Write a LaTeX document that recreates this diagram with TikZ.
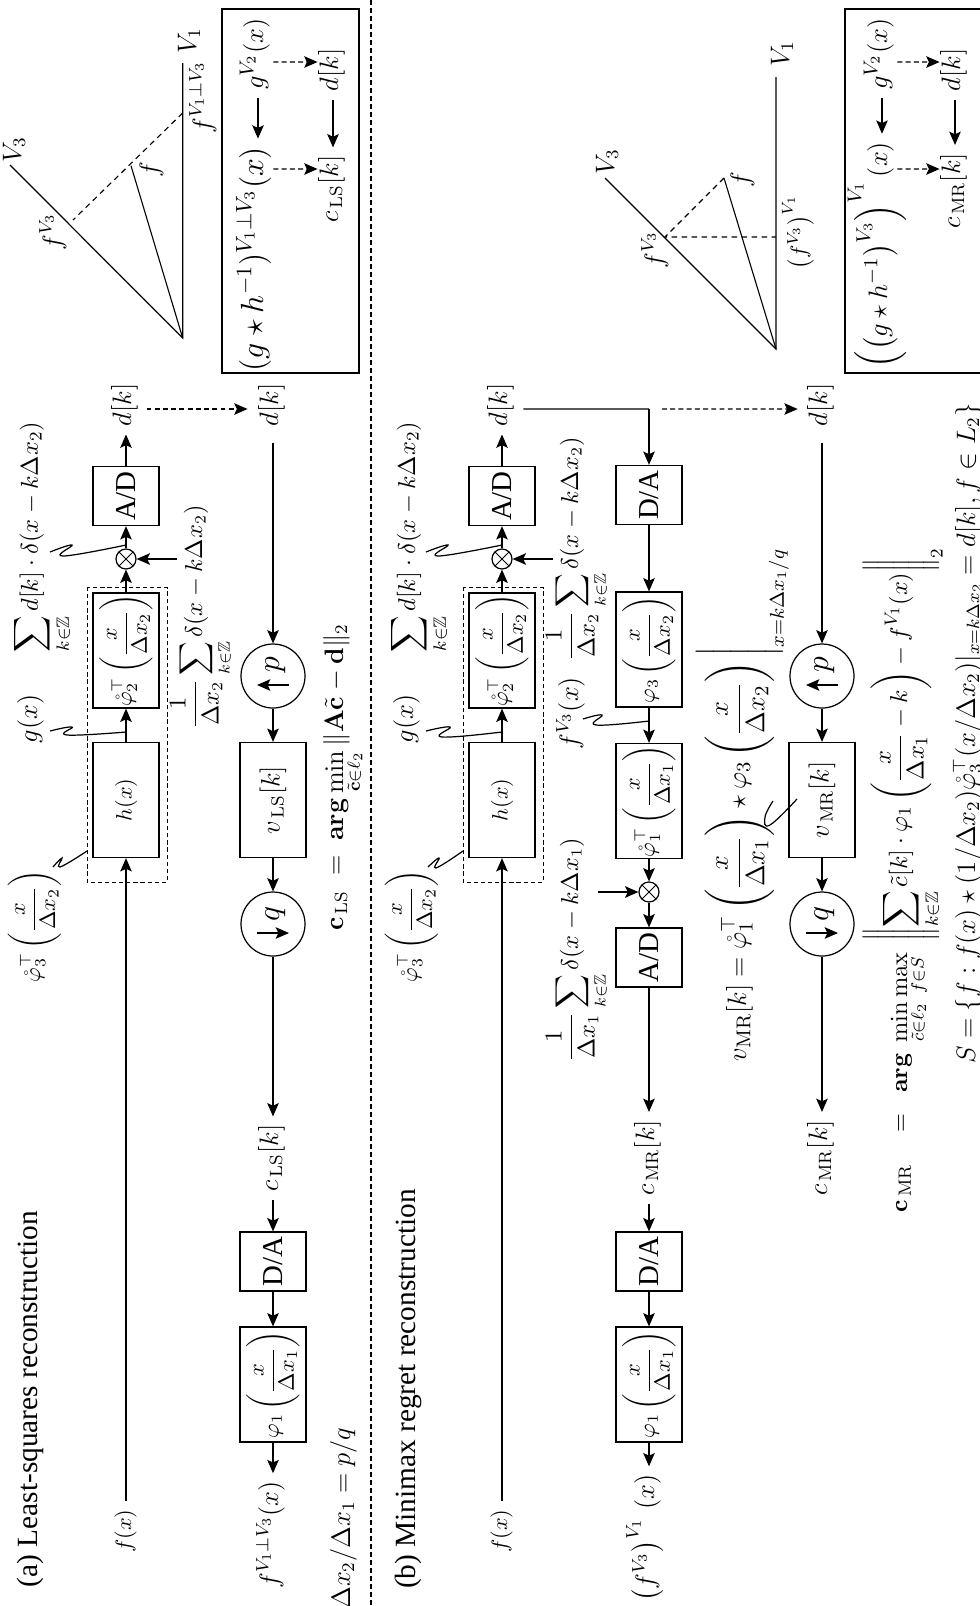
\documentclass[tikz,border=0pt]{standalone}
\usepackage{amsmath,amssymb}
\usepackage[no-math]{fontspec}
\setmainfont{Liberation Serif}
\usetikzlibrary{arrows.meta}
\begin{document}
\begin{tikzpicture}[x=0.45pt,y=-0.45pt,>={Stealth[length=6pt,width=5.2pt,inset=1.2pt]},
  every node/.style={rotate=90},
  flow/.style={->,line width=.5pt},
  dashflow/.style={->,line width=.55pt,dash pattern=on 2.2pt off 1.5pt},
  wire/.style={line width=.5pt},
  wiggle/.style={line width=.55pt,smooth,tension=.75},
  blockbox/.style={draw,line width=.55pt,minimum width=51.75pt,minimum height=29.7pt,inner sep=0pt},
  shortbox/.style={blockbox,minimum width=26.6pt,font=\fontsize{13}{15}\selectfont},
  ratecirc/.style={draw,circle,line width=.55pt,minimum size=28.8pt,inner sep=0pt},
  multnode/.style={draw,circle,line width=.55pt,minimum size=9pt,inner sep=0pt,
    path picture={\draw[line width=.4pt] (path picture bounding box.south west) -- (path picture bounding box.north east)
      (path picture bounding box.south east) -- (path picture bounding box.north west);}},
  lab/.style={text height=7pt,text depth=2.5pt,inner ysep=2pt,inner xsep=3.5pt},
  biglab/.style={lab,font=\large},
  toplab/.style={lab,font=\fontsize{13}{15}\selectfont},
  formula/.style={anchor=base,inner sep=0pt},
  bigformula/.style={formula,font=\large},
  rateformula/.style={formula,font=\Large}]
\useasboundingbox (0,0) rectangle (980,1606);

% separator
\coordinate (septop) at (371,0);
\coordinate (sepbot) at (371,1606);
\draw[line width=.55pt,dash pattern=on 2.2pt off 1.4pt] (septop) -- (sepbot);

% (a) least squares
\node[formula,font=\fontsize{13.2}{15}\selectfont] (titlea) at (38,1399) {(a) Least-squares reconstruction};

\node[lab] (fina) at (126,1531) {$f(x)$};
\node[blockbox] (hboxa) at (126,800) {$h(x)$};
\node[blockbox] (phitwoa) at (126,650.5) {$\displaystyle\mathring{\varphi}_2^{\top}\left(\frac{x}{\Delta x_2}\right)$};
\draw[line width=.4pt,dash pattern=on 1.9pt off 1.3pt] (87,587) rectangle (167,882);
\node[multnode] (multa) at (126,559) {};
\node[shortbox] (adboxa) at (126,496) {A/D};
\node[biglab] (dtopa) at (126,405) {$d[k]$};
\coordinate (deltaina) at (177,559);

\draw[flow] (fina) -- (hboxa);
\draw[flow] (hboxa) -- (phitwoa);
\draw[flow] (phitwoa) -- (multa);
\draw[flow] (multa) -- (adboxa);
\draw[flow] (adboxa) -- (dtopa);
\draw[flow] (deltaina) -- (multa);

\node[biglab] (dbota) at (273,405) {$d[k]$};
\node[ratecirc] (upa) at (273,676) {};
\node[rateformula] (plaba) at (279,665) {$p$};
\coordinate (uptaila) at (289,685);
\coordinate (upheada) at (257,685);
\draw[flow] (uptaila) -- (upheada);
\node[blockbox,font=\large] (vboxa) at (273,800) {$v_{\,\mathrm{LS}}[k]$};
\node[ratecirc] (downa) at (273,924) {};
\node[rateformula] (qlaba) at (279,914) {$q$};
\coordinate (downtaila) at (257,933);
\coordinate (downheada) at (289,933);
\draw[flow] (downtaila) -- (downheada);
\node[biglab] (cla) at (273,1158) {$c_{\,\mathrm{LS}}[k]$};
\node[shortbox] (daboxa) at (273,1261.5) {D/A};
\node[blockbox] (phionea) at (273,1384.5) {$\displaystyle\varphi_1\left(\frac{x}{\Delta x_1}\right)$};
\node[biglab] (fouta) at (273,1535) {$f^{V_1\perp V_3}(x)$};

\draw[dashflow,shorten <=2.3pt,shorten >=4.5pt] ([yshift=-1.8pt]dtopa.south) -- ([yshift=-1.8pt]dbota.north);
\draw[flow,shorten <=3.6pt] (dbota) -- (upa);
\draw[flow] (upa) -- (vboxa);
\draw[flow] (vboxa) -- (downa);
\draw[flow] (downa) -- (cla);
\draw[flow] (cla) -- (daboxa);
\draw[flow] (daboxa) -- (phionea);
\draw[flow] (phionea) -- (fouta);

\node[bigformula] (glaba) at (37,719) {$g(x)$};
\node[formula,font=\fontsize{11.4}{13}\selectfont] (sumlaba) at (38,537) {$\displaystyle\sum_{k\in\mathbb{Z}} d[k]\cdot\delta(x-k\Delta x_2)$};
\node[formula] (philaba) at (40,926) {$\displaystyle\mathring{\varphi}_3^{\top}\left(\frac{x}{\Delta x_2}\right)$};
\node[formula,font=\fontsize{10.5}{12}\selectfont] (comba) at (202,617) {$\displaystyle\frac{1}{\Delta x_2}\sum_{k\in\mathbb{Z}}\delta(x-k\Delta x_2)$};
\node[bigformula] (clsa) at (343,777) {$\displaystyle\mathbf{c}_{\,\mathrm{LS}}\;=\;\mathbf{arg}\min_{\tilde{\mathbf{c}}\in\ell_2}\|\mathbf{A}\tilde{\mathbf{c}}-\mathbf{d}\|_2$};
\node[formula,font=\large,anchor=base east] (ratio) at (350,1427) {$\Delta x_2/\Delta x_1=p/q$};

\draw[wiggle] plot coordinates {(50,731) (72,727) (67,735) (126,732)};
\draw[wiggle] plot coordinates {(50,552) (72,545) (63,556) (126,545)};
\draw[wiggle] plot coordinates {(53,867) (62,858) (60,867) (87,851)};

% (a) subspaces
\coordinate (orga) at (182.7,338);
\coordinate (vonea) at (182.7,63);
\coordinate (vthreea) at (10,165);
\coordinate (fpta) at (131,165.7);
\coordinate (foota) at (73,220);
\coordinate (projta) at (182.7,113);
\draw[line width=.55pt] (vonea) -- (orga) -- (vthreea);
\draw[line width=.5pt] (orga) -- (fpta);
\draw[line width=.5pt,dash pattern=on 2.5pt off 2pt] (projta) -- (foota);
\node[bigformula] (vonelaba) at (196,41) {$V_1$};
\node[bigformula] (vthreelaba) at (21,150) {$V_3$};
\node[bigformula] (flaba) at (158,170) {$f$};
\node[bigformula] (fvthreea) at (61,232) {$f^{V_3}$};
\node[bigformula] (fperpa) at (211,97) {$f^{V_1\perp V_3}$};

\draw[line width=.55pt] (222,9) rectangle (359,373);
\node[toplab] (gvtwoa) at (258,54) {$g^{V_2}(x)$};
\node[lab,font=\fontsize{13.6}{15}\selectfont] (gconva) at (258,259) {$(g\star h^{-1})^{V_1\perp V_3}(x)$};
\node[biglab] (dboxa) at (333,70) {$d[k]$};
\node[biglab] (cboxa) at (333,189) {$c_{\,\mathrm{LS}}[k]$};
\draw[flow] (gvtwoa) -- (gconva);
\draw[flow] (dboxa) -- (cboxa);
\draw[dashflow] ([yshift=-3.6pt]gvtwoa.south) -- ([yshift=3.6pt]dboxa.north);
\draw[dashflow] ([yshift=40.5pt]gconva.south) -- ([yshift=9pt]cboxa.north);

% (b) minimax regret
\node[formula,font=\fontsize{13.2}{15}\selectfont] (titleb) at (415,1389) {(b) Minimax regret reconstruction};

\node[lab] (finb) at (502,1531) {$f(x)$};
\node[blockbox] (hboxb) at (502,800) {$h(x)$};
\node[blockbox] (phitwob) at (502,650.5) {$\displaystyle\mathring{\varphi}_2^{\top}\left(\frac{x}{\Delta x_2}\right)$};
\draw[line width=.4pt,dash pattern=on 1.9pt off 1.3pt] (463,587) rectangle (543,882);
\node[multnode] (multb) at (502,559) {};
\node[shortbox] (adboxb) at (502,496) {A/D};
\node[biglab] (dtopb) at (502,405) {$d[k]$};
\coordinate (deltainb) at (553,559);
\coordinate (splitb) at (649,409);

\draw[flow] (finb) -- (hboxb);
\draw[flow] (hboxb) -- (phitwob);
\draw[flow] (phitwob) -- (multb);
\draw[flow] (multb) -- (adboxb);
\draw[flow] (adboxb) -- (dtopb);
\draw[flow] (deltainb) -- (multb);

\node[shortbox] (dacb) at (649,495) {D/A};
\node[blockbox] (phithreeb) at (649,649.5) {$\displaystyle\varphi_3\left(\frac{x}{\Delta x_2}\right)$};
\node[blockbox] (phioneb) at (649,801) {$\displaystyle\mathring{\varphi}_1^{\top}\left(\frac{x}{\Delta x_1}\right)$};
\node[multnode] (multc) at (649,892) {};
\node[shortbox] (adboxc) at (649,957.5) {A/D};
\node[biglab] (cmrb) at (649,1158) {$c_{\,\mathrm{MR}}[k]$};
\node[shortbox] (daboxb) at (649,1261.5) {D/A};
\node[blockbox] (phifinb) at (649,1384.5) {$\displaystyle\varphi_1\left(\frac{x}{\Delta x_1}\right)$};
\node[biglab] (foutb) at (649,1538) {$\left(f^{V_3}\right)^{V_1}\,(x)$};
\coordinate (deltainc) at (598,892);

\draw[wire,shorten <=2.7pt] ([yshift=-1.8pt]dtopb.south) -- (splitb);
\draw[flow] (splitb) -- (dacb);
\draw[flow] (dacb) -- (phithreeb);
\draw[flow] (phithreeb) -- (phioneb);
\draw[flow] (phioneb) -- (multc);
\draw[flow] (multc) -- (adboxc);
\draw[flow] (deltainc) -- (multc);
\draw[flow] (adboxc) -- (cmrb);
\draw[flow] (cmrb) -- (daboxb);
\draw[flow] (daboxb) -- (phifinb);
\draw[flow] (phifinb) -- (foutb);

\node[biglab] (dbotb) at (822,405) {$d[k]$};
\node[ratecirc] (upb) at (822,676) {};
\node[rateformula] (plabb) at (828,665) {$p$};
\coordinate (uptailb) at (838,685);
\coordinate (upheadb) at (806,685);
\draw[flow] (uptailb) -- (upheadb);
\node[blockbox,font=\large] (vboxb) at (822,800) {$v_{\,\mathrm{MR}}[k]$};
\node[ratecirc] (downb) at (822,924) {};
\node[rateformula] (qlabb) at (828,914) {$q$};
\coordinate (downtailb) at (806,933);
\coordinate (downheadb) at (838,933);
\draw[flow] (downtailb) -- (downheadb);
\node[biglab] (clb) at (822,1158) {$c_{\,\mathrm{MR}}[k]$};
\coordinate (dashstartb) at (662,409);
\draw[dashflow,shorten >=4pt] (dashstartb) -- ([yshift=-1.8pt]dbotb.north);
\draw[flow,shorten <=3.6pt] (dbotb) -- (upb);
\draw[flow] (upb) -- (vboxb);
\draw[flow] (vboxb) -- (downb);
\draw[flow] (downb) -- (clb);

\node[bigformula] (glabb) at (413,719) {$g(x)$};
\node[formula,font=\fontsize{11.4}{13}\selectfont] (sumlabb) at (415,537) {$\displaystyle\sum_{k\in\mathbb{Z}} d[k]\cdot\delta(x-k\Delta x_2)$};
\node[formula] (philabb) at (417,926) {$\displaystyle\mathring{\varphi}_3^{\top}\left(\frac{x}{\Delta x_2}\right)$};
\node[formula,font=\fontsize{10.5}{12}\selectfont] (combb) at (578,549) {$\displaystyle\frac{1}{\Delta x_2}\sum_{k\in\mathbb{Z}}\delta(x-k\Delta x_2)$};
\node[formula,font=\fontsize{10.5}{12}\selectfont] (combc) at (578,950) {$\displaystyle\frac{1}{\Delta x_1}\sum_{k\in\mathbb{Z}}\delta(x-k\Delta x_1)$};
\node[bigformula] (fvlabb) at (578,713) {$f^{V_3}(x)$};
\node[formula,font=\fontsize{13}{15}\selectfont] (vmrdef) at (746,805) {$\displaystyle v_{\mathrm{MR}}[k]=\mathring{\varphi}_1^{\top}\left(\frac{x}{\Delta x_1}\right)\star\varphi_3\left(\frac{x}{\Delta x_2}\right)\Bigg|_{x=k\Delta x_1/q}$};
\node[formula,font=\fontsize{11.4}{13}\selectfont] (cmrdef) at (907,880) {$\displaystyle\mathbf{c}_{\,\mathrm{MR}}\quad=\;\;\mathbf{arg}\;\min_{\tilde{c}\in\ell_2}\max_{f\in S}\;\left\|\sum_{k\in\mathbb{Z}}\tilde{c}[k]\cdot\varphi_1\left(\frac{x}{\Delta x_1}-k\right)-f^{V_1}(x)\right\|_2$};
\node[formula,font=\fontsize{11.5}{13}\selectfont] (sdef) at (975,733.5) {$S=\{f:f(x)\star(1/\Delta x_2)\mathring{\varphi}_3^{\top}(x/\Delta x_2)|_{x=k\Delta x_2}=d[k],f\in L_2\}$};

\draw[wiggle] plot coordinates {(426,731) (450,727) (442,737) (502,732)};
\draw[wiggle] plot coordinates {(426,552) (448,545) (438,556) (502,545)};
\draw[wiggle] plot coordinates {(428,867) (439,858) (436,868) (463,851)};
\draw[wiggle] plot coordinates {(583,719) (602,715) (596,725) (649,721)};
\draw[wiggle] plot coordinates {(797,799) (770,825) (765,817) (773,801)};

% (b) subspaces
\coordinate (orgb) at (776,349);
\coordinate (voneb) at (776,77);
\coordinate (vthreeb) at (605,178);
\coordinate (fptb) at (724,178);
\coordinate (footb) at (665,237);
\coordinate (projb) at (776,237);
\draw[line width=.55pt] (voneb) -- (orgb) -- (vthreeb);
\draw[line width=.5pt] (orgb) -- (fptb);
\draw[line width=.5pt,dash pattern=on 2.5pt off 2pt] (fptb) -- (footb) -- (projb);
\node[bigformula] (vonelabb) at (789,54) {$V_1$};
\node[bigformula] (vthreelabb) at (614,162) {$V_3$};
\node[bigformula] (flabb) at (749,180) {$f$};
\node[bigformula] (fvthreeb) at (663,250) {$f^{V_3}$};
\node[formula] (fvvb) at (806,232) {$\left(f^{V_3}\right)^{V_1}$};

\draw[line width=.55pt] (990,9) -- (845,9) -- (845,373) -- (990,373);
\node[toplab] (gvtwob) at (882,54) {$g^{V_2}(x)$};
\node[toplab] (gconvb) at (882,255) {$\left(\left(g\star h^{-1}\right)^{V_3}\right)^{V_1}(x)$};
\node[biglab] (dboxb) at (955,70) {$d[k]$};
\node[biglab] (cboxb) at (955,191) {$c_{\,\mathrm{MR}}[k]$};
\draw[flow] (gvtwob) -- (gconvb);
\draw[flow] (dboxb) -- (cboxb);
\draw[dashflow] ([yshift=-3.6pt]gvtwob.south) -- ([yshift=3.6pt]dboxb.north);
\draw[dashflow] ([yshift=38.7pt]gconvb.south) -- ([yshift=9.9pt]cboxb.north);
\end{tikzpicture}
\end{document}
